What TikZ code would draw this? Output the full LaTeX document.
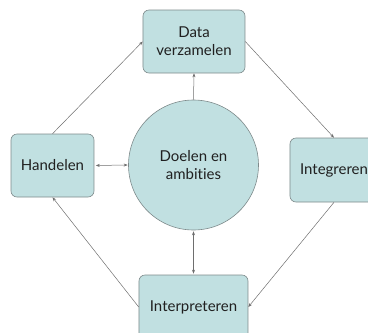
\documentclass[tikz,border=0pt]{standalone}
\usepackage{fontspec}
\setmainfont[Ligatures={NoCommon,NoDiscretionary,NoRare}]{Lato}
\usetikzlibrary{arrows.meta}
\definecolor{boxfill}{HTML}{C1E0E1}
\definecolor{boxline}{HTML}{7E8A8B}
\definecolor{arrowcol}{HTML}{6E6E6E}
\definecolor{textcol}{HTML}{202020}
\begin{document}
\begin{tikzpicture}[x=1pt,y=1pt,
  box/.style={draw=boxline,fill=boxfill,rounded corners=6pt,line width=0.6pt,align=center,inner sep=0pt,text=textcol,font=\fontsize{15}{17.7}\selectfont},
  conn/.style={draw=arrowcol,line width=0.5pt,-{Stealth[length=4pt,width=3pt]}},
  bconn/.style={draw=arrowcol,line width=0.5pt,{Stealth[length=4pt,width=3pt]}-{Stealth[length=4pt,width=3pt]}}]
\useasboundingbox (0,0) rectangle (368,-333);
\begin{scope}
\clip (0,0) rectangle (368,-333);
\node[box,minimum width=102pt,minimum height=63pt] (data) at (194,-41.5) {Data\\verzamelen};
\node[box,circle,rounded corners=0pt,minimum size=130pt] (goal) at (193.5,-165) {Doelen en\\ambities};
\node[box,minimum width=83pt,minimum height=63pt] (hand) at (52.5,-165.5) {Handelen};
\node[box,minimum width=88pt,minimum height=64pt] (integ) at (334,-170) {Integreren};
\node[box,minimum width=109pt,minimum height=64pt] (interp) at (193.5,-307) {Interpreteren};
\end{scope}
\draw[conn] (hand.north) -- (data.west);
\draw[conn] (data.east) -- (integ.north);
\draw[conn] (integ.south) -- (interp.east);
\draw[conn] (interp.west) -- (hand.south);
\draw[conn] (goal.north) -- (data.south);
\draw[bconn,shorten <=1.5pt,shorten >=0.5pt] (hand.east) -- (goal.west);
\draw[bconn,shorten <=1pt,shorten >=1pt] (goal.south) -- (interp.north);
\end{tikzpicture}
\end{document}
